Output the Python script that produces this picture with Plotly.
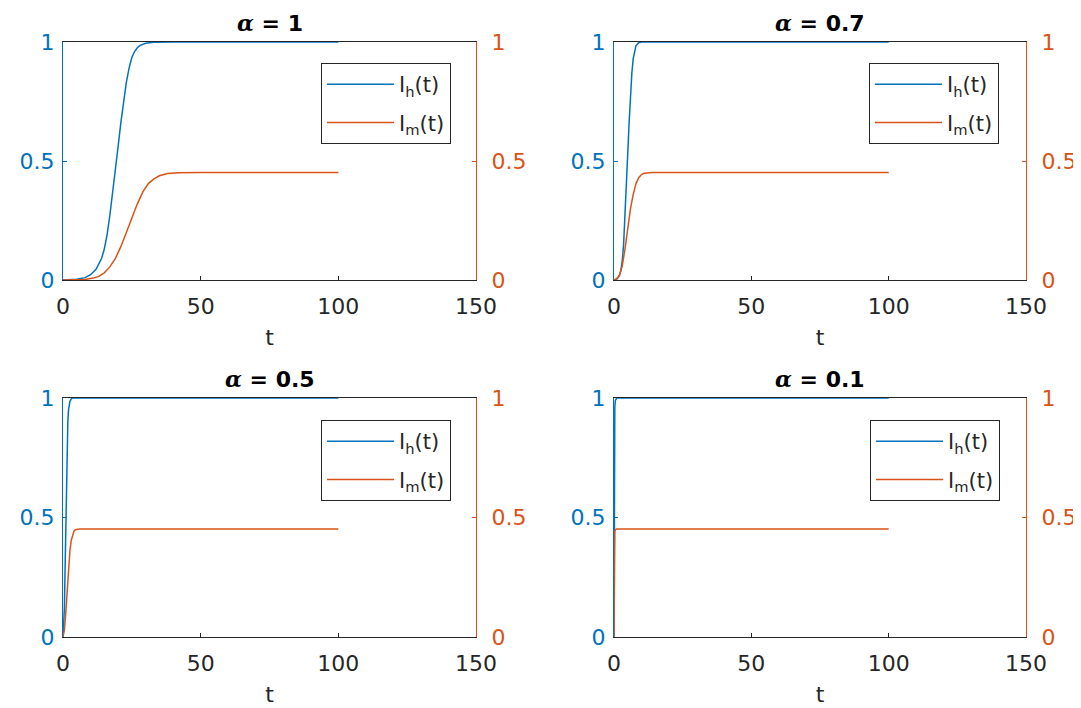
import plotly.graph_objects as go

# ---------------- data ----------------
alpha_labels = ["1", "0.7", "0.5", "0.1"]

# alpha = 1
t_h_a1 = [0, 5, 8, 10, 12, 14, 15, 16, 17, 18, 19, 20, 21, 22, 23, 24, 25, 26, 27, 28, 30, 33, 36, 40, 50, 100]
ih_a1 = [0, 0.003, 0.01, 0.022, 0.045, 0.09, 0.13, 0.19, 0.27, 0.36, 0.46, 0.56, 0.66, 0.75, 0.83, 0.89, 0.935, 0.96, 0.976, 0.986, 0.995, 0.999, 1, 1, 1, 1]
t_m_a1 = [0, 8, 11, 13, 15, 17, 19, 21, 23, 25, 27, 29, 31, 33, 35, 38, 42, 50, 100]
im_a1 = [0, 0.002, 0.008, 0.015, 0.03, 0.055, 0.09, 0.14, 0.2, 0.26, 0.32, 0.37, 0.405, 0.425, 0.438, 0.447, 0.451, 0.452, 0.452]

# alpha = 0.7
t_h_a07 = [0, 1, 1.5, 2, 2.5, 3, 3.5, 4, 4.5, 5, 5.5, 6, 6.5, 7, 7.5, 8, 9, 10, 100]
ih_a07 = [0, 0.004, 0.01, 0.02, 0.04, 0.08, 0.15, 0.26, 0.4, 0.53, 0.66, 0.78, 0.87, 0.93, 0.965, 0.985, 0.997, 1, 1]
t_m_a07 = [0, 1, 2, 3, 4, 5, 6, 7, 8, 9, 10, 11, 12, 14, 100]
im_a07 = [0, 0.005, 0.02, 0.06, 0.13, 0.22, 0.3, 0.36, 0.405, 0.43, 0.443, 0.449, 0.451, 0.452, 0.452]

# alpha = 0.5
t_h_a05 = [0, 0.25, 0.5, 0.75, 1, 1.25, 1.5, 1.75, 2, 2.5, 3, 3.5, 100]
ih_a05 = [0, 0.04, 0.12, 0.28, 0.47, 0.65, 0.8, 0.9, 0.95, 0.985, 0.996, 1, 1]
t_m_a05 = [0, 0.5, 1, 1.5, 2, 2.5, 3, 3.5, 4, 4.5, 5, 6, 100]
im_a05 = [0, 0.03, 0.1, 0.2, 0.29, 0.36, 0.405, 0.43, 0.443, 0.449, 0.451, 0.452, 0.452]

# alpha = 0.1
t_h_a01 = [0, 0.05, 0.1, 0.2, 0.3, 0.5, 1, 100]
ih_a01 = [0, 0.35, 0.6, 0.88, 0.96, 0.99, 1, 1]
t_m_a01 = [0, 0.05, 0.1, 0.2, 0.3, 0.5, 1, 100]
im_a01 = [0, 0.15, 0.3, 0.41, 0.44, 0.45, 0.452, 0.452]

series = [
    (t_h_a1, ih_a1, t_m_a1, im_a1),
    (t_h_a07, ih_a07, t_m_a07, im_a07),
    (t_h_a05, ih_a05, t_m_a05, im_a05),
    (t_h_a01, ih_a01, t_m_a01, im_a01),
]
x_ticks = [0, 50, 100, 150]
y_ticks = [0, 0.5, 1]
y_tick_text = ["0", "0.5", "1"]

# ---------------- style / layout ----------------
W, H = 1081, 708
OFF = 8  # page body margin of the rendered html
BLUE = "#0072BD"
ORANGE = "#D95319"
DARK = "#262626"
FONT = "DejaVu Sans"


def px(x):
    return (x - OFF) / W


def py(y):
    return 1 - (y - OFF) / H


x_domains = [(63, 476), (614, 1026), (63, 476), (614, 1026)]
y_domains = [(42, 280), (42, 280), (398, 637), (398, 637)]
legend_pos = [(451, 63), (999, 63), (451, 420), (1000, 420)]

fig = go.Figure()
layout = dict(
    width=W, height=H,
    margin=dict(l=0, r=0, t=0, b=0, autoexpand=False),
    paper_bgcolor="white", plot_bgcolor="white",
    font=dict(family=FONT, size=21, color=DARK),
    showlegend=True,
    annotations=[],
)

for i in range(4):
    n = "" if i == 0 else str(i + 1)
    xa, yl, yr = f"x{n}", f"y{n}", f"y{i + 5}"
    lg = "legend" if i == 0 else f"legend{i + 1}"
    th, ih, tm, im = series[i]
    fig.add_trace(go.Scatter(x=th, y=ih, xaxis=xa, yaxis=yl, mode="lines",
                             name="I<sub>h</sub>(t)", legend=lg, legendgroup=f"h{i}",
                             line=dict(color=BLUE, width=1.5)))
    fig.add_trace(go.Scatter(x=tm, y=im, xaxis=xa, yaxis=yr, mode="lines",
                             name="I<sub>m</sub>(t)", legend=lg, legendgroup=f"m{i}",
                             line=dict(color=ORANGE, width=1.5)))

    x0, x1 = x_domains[i]
    y0, y1 = y_domains[i]
    layout[f"xaxis{n}"] = dict(
        domain=[px(x0), px(x1)], anchor=yl, range=[0, 150], automargin=False,
        tickvals=x_ticks, ticks="inside", ticklen=4, tickcolor=DARK,
        showline=True, linecolor=DARK, linewidth=1.3, mirror=True,
        showgrid=False, zeroline=False, ticklabelstandoff=6,
        tickfont=dict(size=22, color=DARK),
        title=dict(text="t", font=dict(size=22, color=DARK), standoff=12),
    )
    layout[f"yaxis{n}"] = dict(
        domain=[py(y1), py(y0)], anchor=xa, range=[0, 1], automargin=False,
        tickvals=y_ticks, ticktext=y_tick_text, ticks="inside", ticklen=4,
        tickcolor=BLUE, showline=True, linecolor=BLUE, linewidth=1.3,
        showgrid=False, zeroline=False, ticklabelstandoff=3,
        tickfont=dict(size=22, color=BLUE),
    )
    layout[f"yaxis{i + 5}"] = dict(
        overlaying=yl, side="right", anchor=xa, range=[0, 1], automargin=False,
        tickvals=y_ticks, ticktext=y_tick_text, ticks="inside", ticklen=4,
        tickcolor=ORANGE, showline=True, linecolor=ORANGE, linewidth=1.3,
        showgrid=False, zeroline=False, ticklabelstandoff=10,
        tickfont=dict(size=22, color=ORANGE),
    )
    lx, ly = legend_pos[i]
    layout[lg] = dict(
        x=px(lx), y=py(ly), xanchor="right", yanchor="top",
        bordercolor=DARK, borderwidth=1, bgcolor="white",
        font=dict(size=21, color=DARK, family=FONT),
        tracegroupgap=8, itemwidth=67,
    )
    layout["annotations"].append(dict(
        text=f"<b><span style=\"font-family:'DejaVu Serif'\"><i>α</i></span> = {alpha_labels[i]}</b>",
        x=px((x0 + x1) / 2), y=py(y0 - 19), xref="paper", yref="paper",
        xanchor="center", yanchor="middle", showarrow=False,
        font=dict(size=22, color="#000000", family=FONT),
    ))

fig.update_layout(**layout)
fig.write_html("out.html")
